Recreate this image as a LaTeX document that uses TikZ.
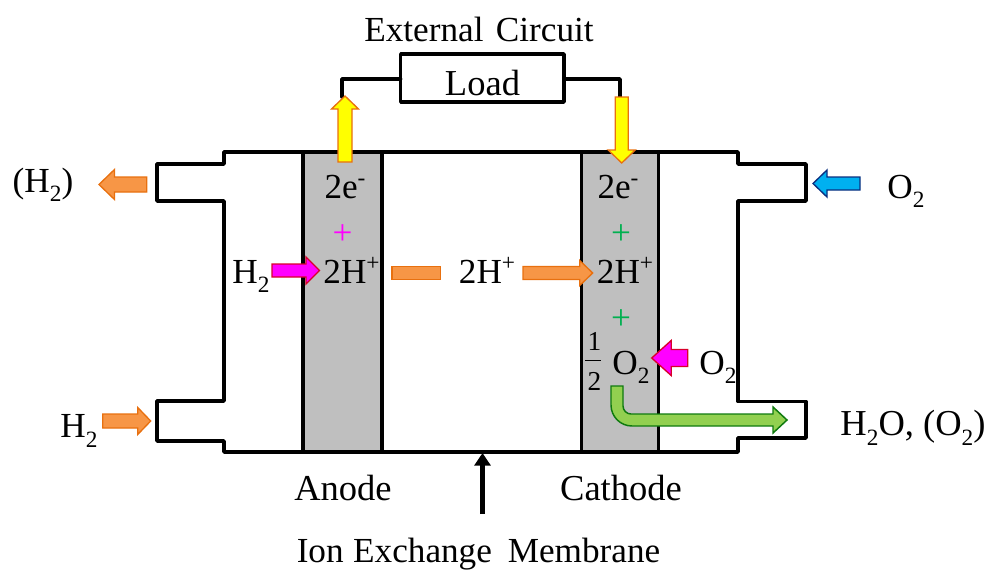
\documentclass[tikz,border=0pt]{standalone}
\usepackage{fontspec}
\usetikzlibrary{arrows.meta}
\setmainfont{Liberation Serif}
\newcommand{\dnsub}[1]{\raisebox{-0.27em}{\fontsize{17.5pt}{18pt}\selectfont #1}}
\newcommand{\upsup}[1]{\raisebox{0.36em}{\fontsize{17.5pt}{18pt}\selectfont #1}}
% name, base x, base y, angle, length, head length, shaft half, head half, style
\newcommand{\blockarrow}[9]{%
  \begin{scope}[shift={(#2,#3)},rotate=#4]
    \draw[#9] (0,-#7) -- ({#5-#6},-#7) -- ({#5-#6},-#8) -- (#5,0) -- ({#5-#6},#8) -- ({#5-#6},#7) -- (0,#7) -- cycle;
    \coordinate (#1) at (#5,0);
    \coordinate (#1b) at (0,0);
  \end{scope}}
\definecolor{elgray}{HTML}{BFBFBF}
\definecolor{orangef}{HTML}{F79646}
\definecolor{orangeb}{HTML}{E8700F}
\definecolor{magb}{HTML}{D8002A}
\definecolor{magf}{HTML}{FF00FF}
\definecolor{yelf}{HTML}{FFFF00}
\definecolor{blueb}{HTML}{0B2F80}
\definecolor{bluef}{HTML}{00B0F0}
\definecolor{greenb}{HTML}{0F7A0F}
\definecolor{greenf}{HTML}{92D050}
\definecolor{plusg}{HTML}{00B050}
\tikzset{
  wall/.style={line width=2.6pt,line join=round,line cap=round},
  electrode/.style={wall,draw=black,fill=elgray,minimum width=59.25pt,minimum height=225pt,inner sep=0pt,outer sep=0pt,anchor=north west},
  txt/.style={font=\fontsize{26.4pt}{30pt}\selectfont,anchor=base,inner sep=0pt},
  bigtxt/.style={txt,font=\fontsize{27.4pt}{30pt}\selectfont},
  orangea/.style={draw=orangeb,fill=orangef,line width=1pt,line join=miter},
  yellowa/.style={draw=orangeb,fill=yelf,line width=1pt,line join=miter},
  magentaa/.style={draw=magb,fill=magf,line width=1pt,line join=miter},
  bluea/.style={draw=blueb,fill=bluef,line width=1pt,line join=miter},
  greena/.style={draw=greenb,fill=greenf,line width=1.1pt,line join=miter}
}
\begin{document}
\begin{tikzpicture}[x=0.75pt,y=-0.75pt]
\useasboundingbox (0,0) rectangle (992,572);
% electrodes
\node[electrode] (anode) at (303,152) {};
\node[electrode,minimum width=57.5pt] (cathode) at (581.7,152) {};
% outline
\draw[wall] (224,152) -- (738,152) -- (738,164) -- (806,164) -- (806,201) -- (738,201)
  -- (738,401.5) -- (806,401.5) -- (806,438) -- (738,438) -- (738,452) -- (224,452)
  -- (224,441) -- (157,441) -- (157,401) -- (224,401) -- (224,201) -- (157,201)
  -- (157,164) -- (224,164) -- cycle;
% load
\node[wall,draw=black,fill=white,minimum width=122.5pt,minimum height=36pt,inner sep=0pt,outer sep=0pt] (load) at (482.3,78) {};
\node[bigtxt] (loadt) at (482.5,95) {Load};
% arrows
\draw[wall] (load.west |- 0,79) -| (342,97);
\draw[wall] (load.east |- 0,79) -| (620,97);
\blockarrow{up}{345}{162}{90}{66}{13}{7}{13.5}{yellowa}
\blockarrow{down}{621.7}{97}{270}{66}{13}{6.5}{13.5}{yellowa}
\blockarrow{hin}{272}{270.5}{0}{47.5}{13.5}{6.5}{13.5}{magentaa}
\blockarrow{oin}{687.7}{358}{180}{36}{19.5}{8.5}{17.5}{magentaa}
\blockarrow{hout}{146.7}{184.5}{180}{47.7}{15.5}{7.5}{15}{orangea}
\blockarrow{hlow}{102.7}{421}{0}{48}{13}{7}{13.5}{orangea}
\blockarrow{prot}{523}{273}{0}{69.7}{13}{6.5}{12.5}{orangea}
\blockarrow{oblue}{860}{183.5}{180}{47}{14}{6.5}{13.5}{bluea}
\node[draw=orangeb,fill=orangef,line width=1pt,inner sep=0pt,minimum width=36.5pt,minimum height=9.8pt] (prot0) at (416.2,273.2) {};
\draw[greena] (611,386) -- (623,386) -- (623,406) arc[start angle=180,end angle=90,radius=8] -- (773,414) -- (773,407) -- (787,420) -- (773,433) -- (773,426) -- (632,426) arc[start angle=90,end angle=180,radius=21] -- cycle;
% membrane pointer
\coordinate (mtail) at (482.5,514);
\coordinate (mhead) at (482.5,453);
\draw[line width=4pt,-{Triangle[length=9.5pt,width=12pt]}] (mtail) -- (mhead);
% texts
\node[txt] (ext) at (479,41) {External\hspace{0.1em} Circuit};
\node[txt] (ea) at (345,198) {2e\upsup{-}};
\node[txt] (ec) at (618,198) {2e\upsup{-}};
\node[txt,magf] (pa) at (342.5,244) {+};
\node[txt,plusg] (pc1) at (621,244) {+};
\node[txt,plusg] (pc2) at (621,329) {+};
\node[txt] (ha) at (351.5,283) {2H\upsup{+}};
\node[txt] (hm) at (487,283) {2H\upsup{+}};
\node[txt] (hc) at (625,283) {2H\upsup{+}};
\node[txt] (hl) at (251,283) {H\dnsub{2}};
\node[txt] (ho) at (43,192) {(H\dnsub{2})};
\node[txt] (hb) at (79,437.5) {H\dnsub{2}};
\node[txt] (ob) at (906,198) {O\dnsub{2}};
\node[txt] (om) at (718,374) {O\dnsub{2}};
\node[txt] (oc) at (631,374) {O\dnsub{2}};
\node[txt,font=\fontsize{20.5pt}{24pt}\selectfont] (half1) at (594.5,350) {1};
\node[txt,font=\fontsize{20.5pt}{24pt}\selectfont] (half2) at (594.5,390) {2};
\draw[line width=1pt] (585,360.7) -- (601,360.7);
\node[bigtxt] (wat) at (913,435.5) {H\dnsub{2}O, (O\dnsub{2})};
\node[bigtxt] (an) at (343,500) {Anode};
\node[bigtxt] (ca) at (621,500) {Cathode};
\node[txt] (ion) at (478.5,562) {Ion\hspace{0.02em} Exchange\hspace{0.2em} Membrane};
\end{tikzpicture}
\end{document}
